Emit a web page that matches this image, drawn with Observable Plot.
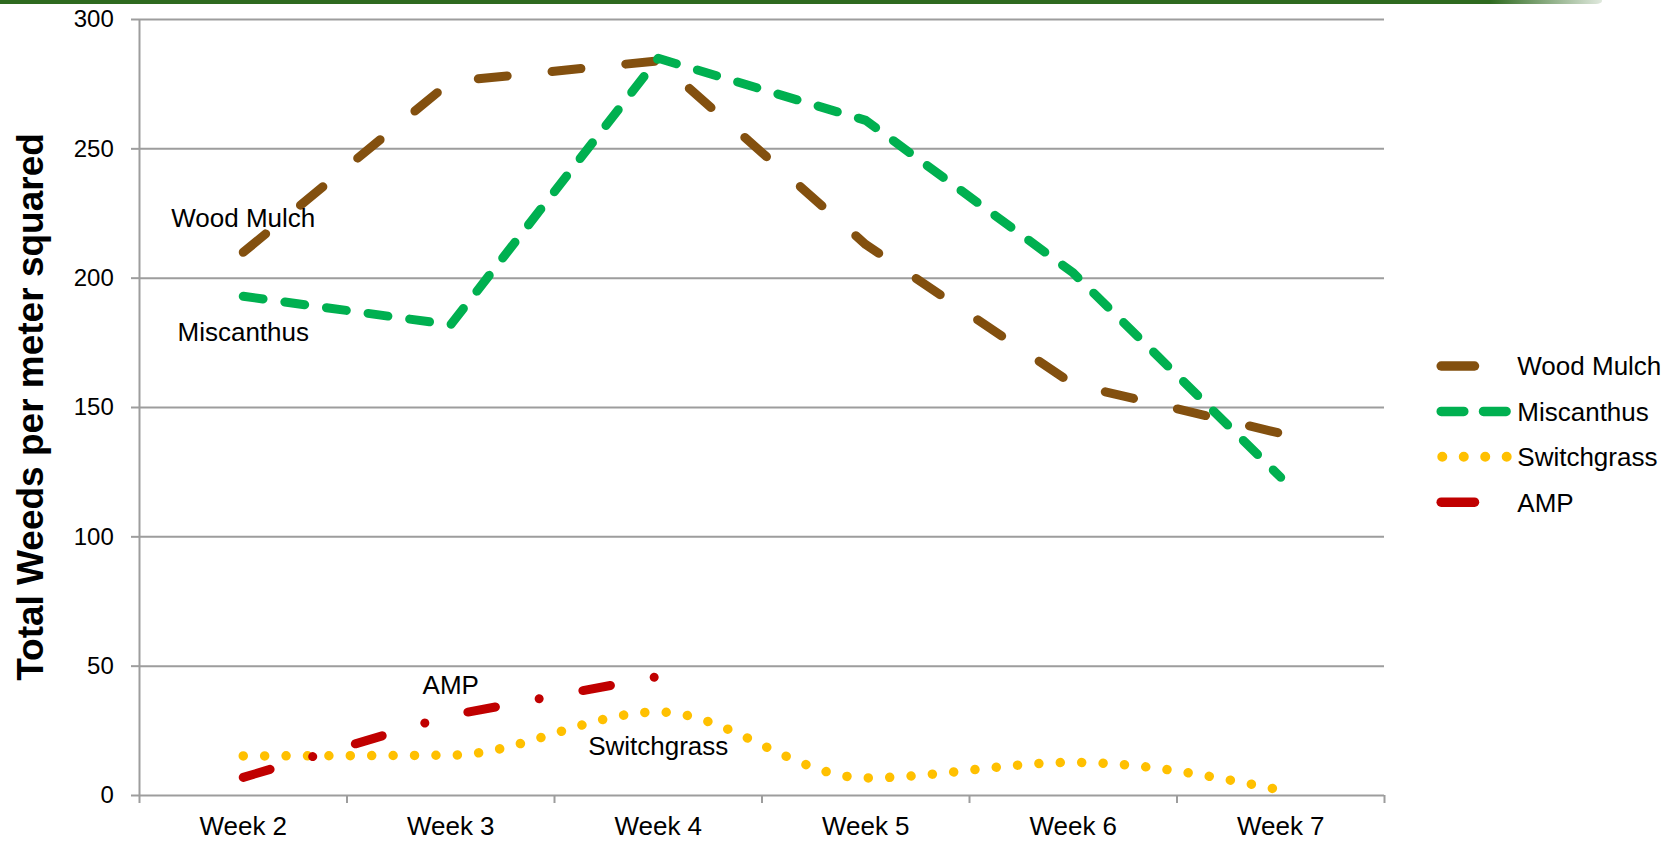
<!DOCTYPE html>
<html><head><meta charset="utf-8">
<script src="https://cdn.jsdelivr.net/npm/d3@7"></script>
<script src="https://cdn.jsdelivr.net/npm/@observablehq/plot@0.6"></script>
<style>
html,body{margin:0;padding:0;background:#fff;}
#wrap{position:relative;width:1678px;height:841px;overflow:hidden;font-family:"Liberation Sans",Arial,sans-serif;}
#chart{position:absolute;left:0;top:0;}
#topbar{position:absolute;left:0;top:0;width:1602px;height:3.5px;background:linear-gradient(to right,#2e6a1f 0%,#2e6a1f 93%,rgba(46,106,31,0.15) 100%);border-bottom-right-radius:6px 3px;}
#overlay{position:absolute;left:0;top:0;}
</style></head><body>
<div id="wrap"><div id="chart"></div><div id="topbar"></div><svg id="overlay" width="1678" height="841"></svg></div>
<script>
// ---- data ----
const weeks = ["Week 2", "Week 3", "Week 4", "Week 5", "Week 6", "Week 7"];
const seriesNames = ["Wood Mulch", "Miscanthus", "Switchgrass", "AMP"];
const woodMulch = [210, 276, 284, 213, 159, 140];
const miscanthus = [193, 182, 285, 261, 202, 123];
const switchgrass = [15.3, 15.6, 32.3, 6.8, 12.8, 2.1];
const amp = [7, 31, 46];
const yTicks = [0, 50, 100, 150, 200, 250, 300];
const yTitle = "Total Weeds per meter squared";

// ---- styles ----
const GRID = "#9d9d9d";
const FONT = '"Liberation Sans", Arial, sans-serif';
const styles = {
  "Wood Mulch": {color: "#83500f", dash: "29,45.1", width: 9, curve: "linear", legend: "solid"},
  "Miscanthus": {color: "#00b050", dash: "20,22", width: 9, curve: "linear", legend: "dash"},
  "Switchgrass": {color: "#ffc000", dash: "0.01,21.4", width: 9.5, curve: "monotone-x", legend: "dot"},
  "AMP": {color: "#c00000", dash: "28,44.5,0.01,44.5", width: 9, curve: "linear", legend: "solid"}
};
const valuesByName = {"Wood Mulch": woodMulch, "Miscanthus": miscanthus, "Switchgrass": switchgrass, "AMP": amp};
const annotations = [
  {name: "Wood Mulch", week: 0, dy: -34},
  {name: "Miscanthus", week: 0, dy: 36},
  {name: "AMP", week: 1, dy: -30},
  {name: "Switchgrass", week: 2, dy: 35}
];

const rows = seriesNames.flatMap(name => valuesByName[name].map((v, i) => ({name, i, week: weeks[i], value: v})));

const lineMarks = seriesNames.map(name => {
  const s = styles[name];
  return Plot.line(rows.filter(d => d.name === name), {
    x: d => d.i + 0.5, y: "value",
    stroke: s.color, strokeWidth: s.width, strokeDasharray: s.dash,
    strokeLinecap: "round", strokeLinejoin: "round", curve: s.curve
  });
});

const labelMarks = annotations.map(a => Plot.text(
  rows.filter(d => d.name === a.name && d.i === a.week),
  {x: d => d.i + 0.5, y: "value", text: d => d.name, dy: a.dy, fontSize: 26, fill: "#000"}
));

const plot = Plot.plot({
  width: 1678, height: 841,
  marginLeft: 139, marginRight: 294, marginTop: 19, marginBottom: 46,
  style: {fontFamily: FONT, fontSize: "24px", color: "#000", background: "transparent", overflow: "visible"},
  x: {domain: [0, weeks.length]},
  y: {domain: [0, 300]},
  marks: [
    Plot.gridY(yTicks.filter(d => d > 0), {stroke: GRID, strokeOpacity: 1, strokeWidth: 2}),
    Plot.ruleY([0], {stroke: GRID, strokeWidth: 2}),
    Plot.ruleX([0], {stroke: GRID, strokeWidth: 2}),
    Plot.axisY({ticks: yTicks, tickSize: 8, tickPadding: 17.7, stroke: GRID, strokeWidth: 2, fill: "#000", fontSize: 24, label: null}),
    Plot.axisX({ticks: d3.range(weeks.length + 1), tickSize: 8, tickFormat: () => "", stroke: GRID, strokeWidth: 2, label: null}),
    Plot.axisX({ticks: weeks.map((w, i) => i + 0.5), tickSize: 0, tickPadding: 21, tickFormat: d => weeks[Math.floor(d)], fill: "#000", fontSize: 26, label: null}),
    ...lineMarks,
    ...labelMarks
  ]
});
document.getElementById("chart").appendChild(plot);

// ---- overlay: y title + legend ----
const ys = plot.scale("y");
const ov = d3.select("#overlay");
const yc = (ys.apply(0) + ys.apply(300)) / 2;
ov.append("text")
  .attr("transform", `translate(43,${yc}) rotate(-90)`)
  .attr("text-anchor", "middle")
  .attr("font-family", FONT).attr("font-weight", "bold").attr("font-size", 37)
  .attr("fill", "#000")
  .text(yTitle);

const legend = ov.append("g").attr("transform", "translate(1436.7,366)");
seriesNames.forEach((name, k) => {
  const s = styles[name];
  const g = legend.append("g").attr("transform", `translate(0,${k * 45.4})`);
  if (s.legend === "solid") {
    g.append("line").attr("x1", 4.5).attr("x2", 37.8).attr("y1", 0).attr("y2", 0)
      .attr("stroke", s.color).attr("stroke-width", 9.5).attr("stroke-linecap", "round");
  } else if (s.legend === "dash") {
    g.append("line").attr("x1", 4.5).attr("x2", 74).attr("y1", 0).attr("y2", 0)
      .attr("stroke", s.color).attr("stroke-width", 9.5).attr("stroke-linecap", "round")
      .attr("stroke-dasharray", "22.6,19.7");
  } else {
    g.append("line").attr("x1", 5.6).attr("x2", 75).attr("y1", 0).attr("y2", 0)
      .attr("stroke", s.color).attr("stroke-width", 10).attr("stroke-linecap", "round")
      .attr("stroke-dasharray", "0.01,21.45");
  }
  g.append("text").attr("x", 80.6).attr("y", 9.3)
    .attr("font-family", FONT).attr("font-size", 26).attr("fill", "#000")
    .text(name);
});
</script>
</body></html>
